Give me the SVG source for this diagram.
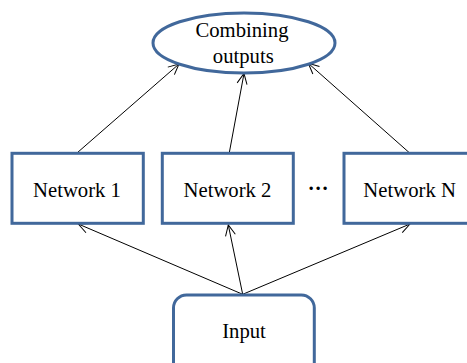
<svg xmlns="http://www.w3.org/2000/svg" width="467" height="363" viewBox="0 0 467 363">
<defs>
<style>
.node{fill:#ffffff;stroke:#41689b;stroke-width:3}
.lbl{font-family:"Liberation Serif","Times New Roman",serif;font-size:20.7px;fill:#000;text-anchor:middle}
.conn{stroke:#000;stroke-width:1;fill:none;marker-end:url(#arr)}
</style>
<marker id="arr" markerUnits="userSpaceOnUse" markerWidth="14" markerHeight="14" viewBox="-12 -7 14 14" refX="0" refY="0" orient="auto">
<path d="M-10.5,-5 L0,0 L-10.5,5" fill="none" stroke="#000" stroke-width="1"/>
</marker>
</defs>
<rect width="467" height="363" fill="#ffffff"/>
<g id="connectors">
<line class="conn" x1="77.3" y1="152.7" x2="179" y2="64"/>
<line class="conn" x1="229.3" y1="152.7" x2="244" y2="73.5"/>
<line class="conn" x1="409.3" y1="152.7" x2="308.3" y2="63.3"/>
<line class="conn" x1="242.7" y1="294.3" x2="78.3" y2="224"/>
<line class="conn" x1="242.7" y1="294.3" x2="228.3" y2="225"/>
<line class="conn" x1="242.7" y1="294.3" x2="410" y2="224"/>
</g>
<g id="combining">
<ellipse class="node" cx="244" cy="43" rx="91" ry="30"/>
<text class="lbl" x="242" y="36.7">Combining</text>
<text class="lbl" x="243.3" y="62.7">outputs</text>
</g>
<g id="network1">
<rect class="node" x="12" y="153.3" width="131.3" height="70"/>
<text class="lbl" x="77" y="197.3">Network 1</text>
</g>
<g id="network2">
<rect class="node" x="162.3" y="153.3" width="131" height="70"/>
<text class="lbl" x="227.5" y="197.3">Network 2</text>
</g>
<g id="ellipsis">
<text class="lbl" x="318" y="190" font-weight="bold">…</text>
</g>
<g id="networkN">
<rect class="node" x="344" y="153.3" width="131" height="70"/>
<text class="lbl" x="409.6" y="197.3">Network N</text>
</g>
<g id="input">
<rect class="node" x="173.5" y="295" width="140.8" height="90" rx="13" ry="13"/>
<text class="lbl" x="244" y="338.3">Input</text>
</g>
</svg>
